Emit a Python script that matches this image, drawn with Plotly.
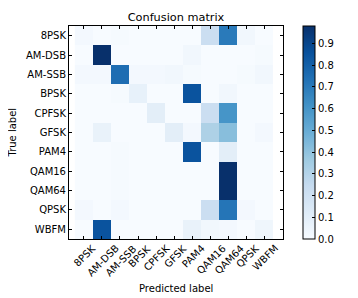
import plotly.graph_objects as go

labels = ["8PSK", "AM-DSB", "AM-SSB", "BPSK", "CPFSK", "GFSK", "PAM4", "QAM16", "QAM64", "QPSK", "WBFM"]

row_8psk   = [0.02, 0.00, 0.01, 0.00, 0.00, 0.00, 0.00, 0.22, 0.70, 0.03, 0.00]
row_amdsb  = [0.00, 0.98, 0.00, 0.00, 0.00, 0.00, 0.03, 0.00, 0.00, 0.00, 0.01]
row_amssb  = [0.02, 0.02, 0.75, 0.02, 0.02, 0.03, 0.01, 0.00, 0.00, 0.01, 0.03]
row_bpsk   = [0.00, 0.00, 0.01, 0.08, 0.00, 0.00, 0.85, 0.00, 0.03, 0.00, 0.00]
row_cpfsk  = [0.00, 0.00, 0.00, 0.00, 0.10, 0.00, 0.00, 0.22, 0.60, 0.00, 0.00]
row_gfsk   = [0.00, 0.07, 0.00, 0.00, 0.00, 0.10, 0.02, 0.32, 0.42, 0.00, 0.02]
row_pam4   = [0.00, 0.00, 0.01, 0.00, 0.00, 0.00, 0.85, 0.00, 0.10, 0.00, 0.00]
row_qam16  = [0.00, 0.00, 0.01, 0.00, 0.00, 0.00, 0.00, 0.00, 0.98, 0.00, 0.00]
row_qam64  = [0.00, 0.00, 0.01, 0.00, 0.00, 0.00, 0.00, 0.00, 0.98, 0.00, 0.00]
row_qpsk   = [0.02, 0.00, 0.02, 0.00, 0.00, 0.00, 0.00, 0.22, 0.72, 0.02, 0.00]
row_wbfm   = [0.00, 0.85, 0.00, 0.00, 0.00, 0.00, 0.07, 0.03, 0.02, 0.00, 0.04]

z = [row_8psk, row_amdsb, row_amssb, row_bpsk, row_cpfsk, row_gfsk,
     row_pam4, row_qam16, row_qam64, row_qpsk, row_wbfm]

blues = ['#f7fbff', '#deebf7', '#c6dbef', '#9ecae1', '#6baed6',
         '#4292c6', '#2171b5', '#08519c', '#08306b']
colorscale = [[i / (len(blues) - 1), c] for i, c in enumerate(blues)]

font = "DejaVu Sans"
fs = 10

# page body has an 8px default margin, so the figure is sized/offset to compensate
W, H = 350, 290
PLOT_H = 213

# approximate DejaVu Sans advance widths (em) to top-align rotated labels like matplotlib
char_w = {"0": .636, "1": .636, "4": .636, "6": .636, "8": .636, "A": .684, "B": .686,
          "C": .698, "D": .770, "F": .575, "G": .775, "K": .656, "M": .863, "P": .603,
          "Q": .787, "S": .635, "W": .989, "-": .361}


def label_center_offset(text):
    w = sum(char_w.get(c, .62) for c in text) * fs - 1.0
    return 0.85 * (w + 7.3) * 0.7071 / 2


fig = go.Figure(go.Heatmap(
    z=z, x=labels, y=labels, colorscale=colorscale, zmin=0, zmax=0.98,
    xgap=0, ygap=0,
    colorbar=dict(
        x=(303 - 69) / 214, xanchor="left", xpad=0, y=0.5, yanchor="middle", ypad=0,
        len=1.0, lenmode="fraction", thickness=12, thicknessmode="pixels",
        outlinecolor="black", outlinewidth=1,
        tickvals=[0, 0.1, 0.2, 0.3, 0.4, 0.5, 0.6, 0.7, 0.8, 0.9],
        ticktext=["0.0", "0.1", "0.2", "0.3", "0.4", "0.5", "0.6", "0.7", "0.8", "0.9"],
        ticks="inside", ticklen=3, tickcolor="black",
        tickfont=dict(family=font, size=fs, color="black"),
    ),
))

# rotated x tick labels, centred under each tick with tops aligned (matplotlib style)
xlabel_annots = [
    dict(text=lab, x=lab, xref="x", y=-(7.5 + label_center_offset(lab)) / PLOT_H, yref="paper",
         xanchor="center", yanchor="middle", textangle=-45, showarrow=False, xshift=1,
         font=dict(family=font, size=fs, color="black"))
    for lab in labels
]

fig.update_layout(
    width=W, height=H,
    margin=dict(l=61, r=75, t=18, b=59, autoexpand=False),
    paper_bgcolor="white", plot_bgcolor="white",
    font=dict(family=font, size=fs, color="black"),
    title=dict(text="Confusion matrix", x=0.5, xref="paper", xanchor="center",
               y=1 - 9.5 / H, yref="container", yanchor="middle", pad=dict(t=0, b=0),
               font=dict(family=font, size=11.3, color="black")),
    annotations=xlabel_annots + [
        dict(text="Predicted label", xref="paper", yref="paper", x=0.5, y=-(288 - 239) / PLOT_H,
             xanchor="center", yanchor="middle", showarrow=False,
             font=dict(family=font, size=fs, color="black")),
        dict(text="True label", xref="paper", yref="paper", x=-(69 - 12) / 214, y=0.5,
             xanchor="center", yanchor="middle", showarrow=False, textangle=-90,
             font=dict(family=font, size=fs, color="black")),
    ],
)
fig.update_xaxes(
    type="category", showline=True, linecolor="black", linewidth=1,
    mirror="ticks", ticks="inside", ticklen=3, tickcolor="black",
    showticklabels=False, automargin=False,
    showgrid=False, zeroline=False,
)
fig.update_yaxes(
    type="category", autorange="reversed", showline=True, linecolor="black", linewidth=1,
    mirror="ticks", ticks="inside", ticklen=3, tickcolor="black",
    tickfont=dict(family=font, size=fs, color="black"), automargin=False,
    showgrid=False, zeroline=False,
)

fig.write_html("out.html")
